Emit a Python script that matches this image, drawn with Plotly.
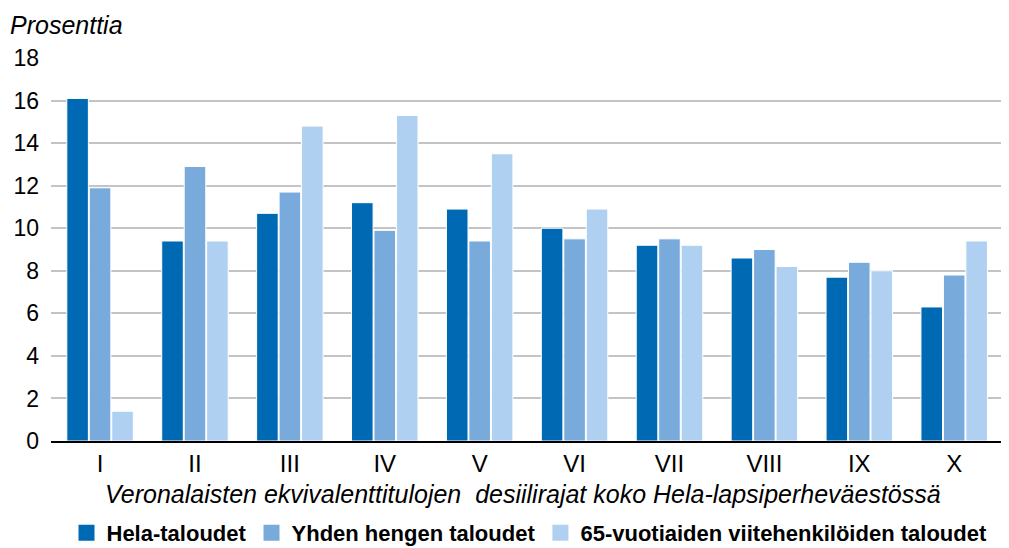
import plotly.graph_objects as go

categories = ["I", "II", "III", "IV", "V", "VI", "VII", "VIII", "IX", "X"]
hela = [16.1, 9.4, 10.7, 11.2, 10.9, 10.0, 9.2, 8.6, 7.7, 6.3]
yhden = [11.9, 12.9, 11.7, 9.9, 9.4, 9.5, 9.5, 9.0, 8.4, 7.8]
vuotiaat65 = [1.4, 9.4, 14.8, 15.3, 13.5, 10.9, 9.2, 8.2, 8.0, 9.4]
series_names = ["Hela-taloudet", "Yhden hengen taloudet", "65-vuotiaiden viitehenkilöiden taloudet"]
colors = ["#0069b4", "#78aadc", "#afd0f0"]
y_ticks = [0, 2, 4, 6, 8, 10, 12, 14, 16, 18]

font_family = "Liberation Sans, Arial, sans-serif"

fig = go.Figure()
for name, vals, col in zip(series_names, [hela, yhden, vuotiaat65], colors):
    fig.add_trace(go.Bar(
        x=categories, y=vals, name=name, showlegend=False,
        marker=dict(color=col, line=dict(color="white", width=1)),
    ))
# legend entries with larger square swatches
for name, col in zip(series_names, colors):
    fig.add_trace(go.Scatter(
        x=[None], y=[None], mode="markers", name=name,
        marker=dict(symbol="square", size=16, color=col),
    ))

# page body has an 8px margin, so the figure is sized and offset accordingly
fig.update_layout(
    width=1001, height=540,
    margin=dict(l=43, r=1, t=50, b=107, autoexpand=False),
    paper_bgcolor="white", plot_bgcolor="white",
    barmode="group", bargap=0.29, bargroupgap=0.04,
    font=dict(family=font_family, color="black", size=24),
    showlegend=True,
    legend=dict(
        orientation="h", x=0.5, xanchor="center", y=-0.24, yanchor="middle",
        font=dict(size=22, family=font_family, weight="bold"),
        itemwidth=30, tracegroupgap=0, itemsizing="trace",
    ),
    xaxis=dict(
        type="category", automargin=False,
        range=[-0.517, 9.567],
        showgrid=False,
        showline=True, linecolor="black", linewidth=2,
        ticks="", tickfont=dict(size=24),
    ),
    yaxis=dict(
        range=[0, 18], tickvals=y_ticks, automargin=False,
        showgrid=True, gridcolor="#c4c4c4", gridwidth=1.5,
        zeroline=False, showline=False,
        ticks="", tickfont=dict(size=23), ticklabelstandoff=11,
    ),
    annotations=[
        dict(
            text="<i>Prosenttia</i>", xref="paper", yref="paper",
            x=-0.045, y=1.086, xanchor="left", yanchor="middle",
            showarrow=False, font=dict(size=25),
        ),
        dict(
            text="<i>Veronalaisten ekvivalenttitulojen\u00a0 desiilirajat koko Hela-lapsiperheväestössä</i>",
            xref="paper", yref="paper", x=0.493, y=-0.138,
            xanchor="center", yanchor="middle",
            showarrow=False, font=dict(size=25),
        ),
    ],
)

fig.write_html("out.html")
